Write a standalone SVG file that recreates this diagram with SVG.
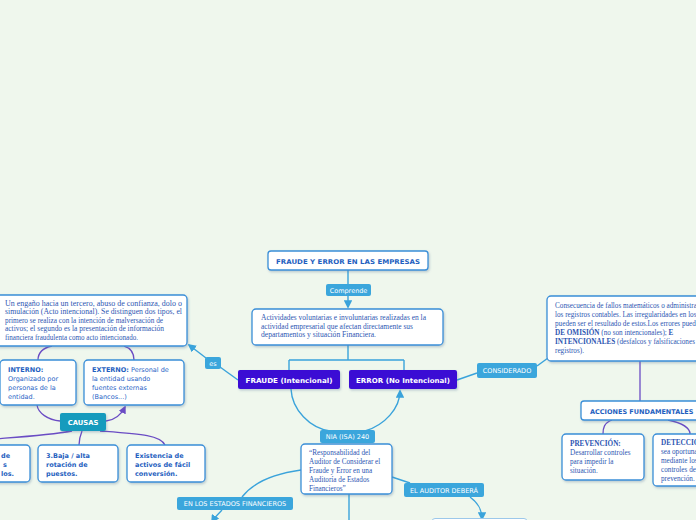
<svg xmlns="http://www.w3.org/2000/svg" width="696" height="520" viewBox="0 0 696 520">
<defs>
<marker id="ab" viewBox="0 0 10 10" refX="8" refY="5" markerWidth="6" markerHeight="6" orient="auto-start-reverse"><path d="M0 0 L10 5 L0 10 Z" fill="#3aa3db"/></marker>
<marker id="ap" viewBox="0 0 10 10" refX="8" refY="5" markerWidth="6" markerHeight="6" orient="auto-start-reverse"><path d="M0 0 L10 5 L0 10 Z" fill="#6a4cc4"/></marker>
<filter id="sh" x="-10%" y="-10%" width="130%" height="140%"><feDropShadow dx="1" dy="1.5" stdDeviation="0.8" flood-color="#5a7a9a" flood-opacity="0.35"/></filter>
</defs>
<style>
.box{fill:#fff;stroke:#3a8fd8;stroke-width:1.3;filter:url(#sh)}
.lbl{fill:#3ba6dc}
.lt{font-family:"DejaVu Sans",sans-serif;font-size:6.5px;fill:#fff}
.pn{fill:#3a10d4;filter:url(#sh)}
.pt{font-family:"DejaVu Sans",sans-serif;font-size:6.8px;font-weight:bold;fill:#fff}
.st{font-family:"DejaVu Sans",sans-serif;font-size:6.5px;fill:#1f63c6}
.sb{font-family:"DejaVu Sans",sans-serif;font-size:6.5px;font-weight:bold;fill:#1f5fc0}
.sr{font-family:"Liberation Serif",serif;font-size:7.2px;fill:#2d56b2}
.cb{fill:none;stroke:#3aa3db;stroke-width:1.4}
.cp{fill:none;stroke:#6a4cc4;stroke-width:1.3}
</style>
<rect width="696" height="520" fill="#eff7ed"/>

<g id="connectors">
<path class="cb" d="M348 270 V284"/>
<path class="cb" d="M348 296 V307" marker-end="url(#ab)"/>
<path class="cb" d="M348 345 V360 M289 360 H404 M289 360 V370 M404 360 V370"/>
<path class="cb" d="M291 389 C292 410 310 428 330 431"/>
<path class="cb" d="M365 431 C385 425 400 408 400 391" marker-end="url(#ab)"/>
<path class="cb" d="M238 380 L220 367"/>
<path class="cb" d="M206 358 L189 345" marker-end="url(#ab)"/>
<path class="cb" d="M457 380 L477 373"/>
<path class="cb" d="M537 366 L548 358"/>
<path class="cb" d="M301 470 C272 474 252 484 242 497"/>
<path class="cb" d="M222 510 C218 514 215 517 212 522" marker-end="url(#ab)"/>
<path class="cb" d="M349 494 V520"/>
<path class="cb" d="M392 477 L410 483"/>
<path class="cb" d="M470 497 C478 503 482 509 482 519" marker-end="url(#ab)"/>
<path class="cp" d="M52 346 C43 348 38 353 38 360"/>
<path class="cp" d="M124 346 C131 348 134 353 134 360"/>
<path class="cp" d="M37 405 C38 413 48 420 60 421"/>
<path class="cp" d="M106 421 C115 420 121 415 125 407" marker-end="url(#ap)"/>
<path class="cp" d="M72 431 C50 435 20 437 -5 439"/>
<path class="cp" d="M82 431 C80 436 79 440 79 445"/>
<path class="cp" d="M100 431 C140 434 160 435 165 445"/>
<path class="cp" d="M640 361 V401"/>
<path class="cp" d="M612 420 C604 423 603 428 603 434"/>
<path class="cp" d="M668 420 C682 423 690 428 690 434"/>
</g>

<g id="title">
<rect class="box" x="268" y="251" width="160" height="19" rx="3"/>
<text class="sb" x="348" y="263.5" text-anchor="middle" font-size="7.5" textLength="144" lengthAdjust="spacingAndGlyphs">FRAUDE Y ERROR EN LAS EMPRESAS</text>
</g>
<g id="lbl-comprende">
<rect class="lbl" x="326" y="284" width="45" height="12" rx="2"/>
<text class="lt" x="348.5" y="292.5" text-anchor="middle">Comprende</text>
</g>
<g id="central">
<rect class="box" x="252" y="309" width="191" height="36" rx="4"/>
<text class="sr" font-size="7.2" x="261" y="320" textLength="165" lengthAdjust="spacingAndGlyphs">Actividades voluntarias e involuntarias realizadas en la</text>
<text class="sr" font-size="7.2" x="261" y="328.5" textLength="152" lengthAdjust="spacingAndGlyphs">actividad empresarial que afectan directamente sus</text>
<text class="sr" font-size="7.2" x="261" y="337" textLength="115" lengthAdjust="spacingAndGlyphs">departamentos  y situación Financiera.</text>
</g>
<g id="fraude">
<rect class="pn" x="238" y="370" width="102" height="19" rx="2"/>
<text class="pt" x="289" y="382.5" text-anchor="middle" textLength="87" lengthAdjust="spacingAndGlyphs">FRAUDE (Intencional)</text>
</g>
<g id="error">
<rect class="pn" x="349" y="370" width="108" height="19" rx="2"/>
<text class="pt" x="403" y="382.5" text-anchor="middle" textLength="94" lengthAdjust="spacingAndGlyphs">ERROR (No Intencional)</text>
</g>
<g id="lbl-es">
<rect class="lbl" x="205" y="357" width="16" height="12" rx="2"/>
<text class="lt" x="213" y="365.5" text-anchor="middle">es</text>
</g>
<g id="definicion">
<rect class="box" x="-5" y="295" width="192" height="51" rx="4"/>
<text class="sr" font-size="6.6" x="5" y="305.5" textLength="177" lengthAdjust="spacingAndGlyphs">Un engaño hacia un tercero, abuso de confianza,  dolo o</text>
<text class="sr" font-size="6.6" x="5" y="314" textLength="177" lengthAdjust="spacingAndGlyphs">simulación (Acto intencional). Se distinguen dos tipos, el</text>
<text class="sr" font-size="6.6" x="5" y="322.5" textLength="158" lengthAdjust="spacingAndGlyphs">primero se realiza con la intención de malversación de</text>
<text class="sr" font-size="6.6" x="5" y="331" textLength="159" lengthAdjust="spacingAndGlyphs">activos; el segundo es la presentación de información</text>
<text class="sr" font-size="6.6" x="5" y="339.5" textLength="133" lengthAdjust="spacingAndGlyphs">financiera fraudulenta como acto intencionado.</text>
</g>
<g id="interno">
<rect class="box" x="0" y="360" width="76" height="45" rx="4"/>
<text class="sb" x="8" y="372">INTERNO:</text>
<text class="st" x="8" y="381">Organizado por</text>
<text class="st" x="8" y="390">personas de la</text>
<text class="st" x="8" y="399">entidad.</text>
</g>
<g id="externo">
<rect class="box" x="84" y="360" width="100" height="45" rx="4"/>
<text class="st" x="92" y="372"><tspan class="sb">EXTERNO:</tspan> Personal de</text>
<text class="st" x="92" y="381">la entidad usando</text>
<text class="st" x="92" y="390">fuentes externas</text>
<text class="st" x="92" y="399">(Bancos...)</text>
</g>
<g id="causas">
<rect x="60" y="413" width="46" height="18" rx="2" fill="#179bbd" filter="url(#sh)"/>
<text class="pt" x="83" y="424.5" text-anchor="middle" font-size="6.5">CAUSAS</text>
</g>
<g id="causa-1">
<rect class="box" x="-10" y="445" width="40" height="37" rx="4"/>
<text class="sb" x="1" y="458">de</text>
<text class="sb" x="3" y="467">s</text>
<text class="sb" x="1" y="476">los.</text>
</g>
<g id="causa-3">
<rect class="box" x="38" y="445" width="80" height="37" rx="4"/>
<text class="sb" x="46" y="458">3.Baja / alta</text>
<text class="sb" x="46" y="467">rotación de</text>
<text class="sb" x="46" y="476">puestos.</text>
</g>
<g id="causa-4">
<rect class="box" x="127" y="445" width="78" height="37" rx="4"/>
<text class="sb" x="135" y="458">Existencia de</text>
<text class="sb" x="135" y="467">activos de fácil</text>
<text class="sb" x="135" y="476">conversión.</text>
</g>
<g id="lbl-considerado">
<rect class="lbl" x="477" y="363" width="60" height="15" rx="2"/>
<text class="lt" x="507" y="372.5" text-anchor="middle">CONSIDERADO</text>
</g>
<g id="error-def">
<rect class="box" x="547" y="296" width="160" height="65" rx="4"/>
<text class="sr" x="555" y="308">Consecuencia de fallos matemáticos o administrativos en</text>
<text class="sr" x="555" y="317">los registros contables. Las irregularidades en los</text>
<text class="sr" x="555" y="326">pueden ser el resultado de estos.Los errores pueden</text>
<text class="sr" x="555" y="335"><tspan font-weight="bold">DE OMISIÓN</tspan> (no son intencionales); <tspan font-weight="bold">E</tspan></text>
<text class="sr" x="555" y="344"><tspan font-weight="bold">INTENCIONALES</tspan> (desfalcos y falsificaciones de</text>
<text class="sr" x="555" y="353">registros).</text>
</g>
<g id="acciones">
<rect class="box" x="581" y="401" width="125" height="19" rx="3"/>
<text class="sb" x="590" y="413.5" font-size="7.5">ACCIONES FUNDAMENTALES</text>
</g>
<g id="prevencion">
<rect class="box" x="562" y="434" width="82" height="46" rx="4"/>
<text class="sr" x="570" y="446" font-weight="bold">PREVENCIÓN:</text>
<text class="sr" x="570" y="455">Desarrollar controles</text>
<text class="sr" x="570" y="464">para impedir la</text>
<text class="sr" x="570" y="473">situación.</text>
</g>
<g id="deteccion">
<rect class="box" x="653" y="434" width="55" height="52" rx="4"/>
<text class="sr" x="661" y="444.5" font-weight="bold">DETECCIÓN:</text>
<text class="sr" x="661" y="453.5">sea oportuna</text>
<text class="sr" x="661" y="462.5">mediante los</text>
<text class="sr" x="661" y="471.5">controles de</text>
<text class="sr" x="661" y="480.5">prevención.</text>
</g>
<g id="lbl-nia">
<rect class="lbl" x="320" y="430" width="55" height="13" rx="2"/>
<text class="lt" x="347.5" y="439" text-anchor="middle">NIA (ISA) 240</text>
</g>
<g id="nia">
<rect class="box" x="301" y="444" width="91" height="50" rx="4"/>
<text class="sr" x="309" y="454.5">“Responsabilidad del</text>
<text class="sr" x="309" y="463.5">Auditor de Considerar el</text>
<text class="sr" x="309" y="472.5">Fraude y Error en una</text>
<text class="sr" x="309" y="481.5">Auditoría de Estados</text>
<text class="sr" x="309" y="490.5">Financieros”</text>
</g>
<g id="lbl-estados">
<rect class="lbl" x="177" y="497" width="116" height="13" rx="2"/>
<text class="lt" x="235" y="506" text-anchor="middle">EN LOS ESTADOS FINANCIEROS</text>
</g>
<g id="lbl-auditor">
<rect class="lbl" x="404" y="483" width="80" height="14" rx="2"/>
<text class="lt" x="444" y="492.5" text-anchor="middle">EL AUDITOR DEBERÁ</text>
</g>
<g id="auditor-box">
<rect x="432" y="518.5" width="95" height="10" rx="3" fill="#fff" stroke="#9cc8ea" stroke-width="1"/>
</g>
</svg>
